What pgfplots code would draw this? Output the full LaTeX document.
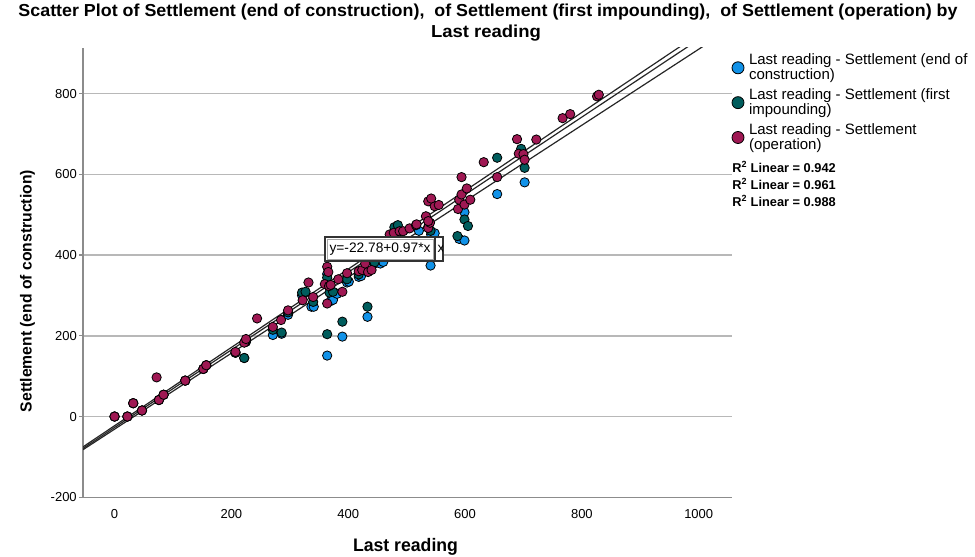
\documentclass[border=0pt]{standalone}
\usepackage{fontspec}
\setmainfont{Liberation Sans}
\usepackage{graphicx}
\usepackage{pgfplots}
\pgfplotsset{compat=1.18}
\definecolor{cblue}{HTML}{1192E8}
\definecolor{cteal}{HTML}{005D5D}
\definecolor{cred}{HTML}{9F1853}
\pgfplotsset{leg/.style={legend image code/.code={\draw[##1, mark size=4.5pt] plot coordinates {(0pt,0pt)};}}}
\begin{document}
\begin{tikzpicture}
\begin{scope}[x=0.75pt,y=-0.75pt]
\useasboundingbox (0,0) rectangle (975,557);
\end{scope}
\begin{axis}[
  at={(62.25pt,-372.975pt)}, anchor=south west,
  scale only axis, width=486.75pt, height=337.35pt,
  xmin=-54, xmax=1057, ymin=-200, ymax=914,
  axis x line*=bottom, axis y line*=left,
  axis line style={draw=black!45, line width=1.2pt, -},
  xtick={0,200,...,1000}, ytick={-200,0,200,400,600,800},
  ymajorgrids, grid style={draw=black!28, line width=1.1pt},
  tick align=outside, major tick length=3pt,
  xtick style={draw=none},
  ytick style={draw=black!45, line width=1pt},
  tick label style={font=\fontsize{9.75}{11}\selectfont},
  yticklabel style={anchor=east, inner sep=0pt, xshift=-1.5pt},
  xticklabel style={anchor=north, inner sep=0pt, yshift=-6pt},
  /pgf/number format/assume math mode=true,
  /pgf/number format/1000 sep={},
  legend style={at={(1,0.9862)}, anchor=north west, draw=none, fill=none,
    inner sep=0pt, outer sep=0pt, row sep=5pt, column sep=3.75pt,
    nodes={inner sep=0pt, outer sep=0pt, font=\fontsize{11.25}{10.3}\selectfont, align=left}},
  legend cell align=left,
]
\addplot[only marks, mark=*, mark size=3.5pt, mark options={fill=cblue, draw=black, line width=0.6pt}, leg] coordinates {
(0,0) (22,0) (32,33) (47,15) (76,41) (84,54) (121,89) (152,118) (157,127) (207,158) (222,145) (225,185) (271,202) (286,205) (297,252) (321,300) (337,272) (341,272) (364,151) (364,353) (370,286) (374,289) (381,304) (390,198) (398,332) (401,334) (418,346) (422,348) (433,247) (445,379) (455,379) (460,383) (479,455) (521,460) (542,451) (548,454) (541,374) (590,440) (599,436) (599,506) (655,551) (702,580)
};
\addlegendentry{Last reading - Settlement (end of\\construction)}
\addplot[only marks, mark=*, mark size=3.5pt, mark options={fill=cteal, draw=black, line width=0.6pt}, leg] coordinates {
(0,0) (22,0) (32,33) (47,15) (76,41) (84,54) (121,89) (152,118) (157,127) (207,158) (222,145) (225,188) (271,215) (286,208) (297,258) (321,307) (327,309) (340,284) (364,204) (364,344) (368,307) (374,309) (390,235) (398,340) (418,352) (433,272) (445,382) (479,469) (485,474) (537,470) (541,460) (587,447) (599,488) (605,472) (655,641) (696,663) (702,616)
};
\addlegendentry{Last reading - Settlement (first\\impounding)}
\addplot[only marks, mark=*, mark size=3.5pt, mark options={fill=cred, draw=black, line width=0.6pt}, leg] coordinates {
(0,0) (22,0) (32,33) (47,15) (72,97) (76,41) (84,54) (121,89) (152,118) (157,127) (207,160) (222,183) (225,192) (244,243) (271,222) (285,239) (297,263) (322,288) (332,332) (340,296) (360,328) (364,371) (366,358) (364,280) (367,323) (370,326) (383,340) (390,309) (398,355) (418,360) (424,363) (434,358) (429,379) (440,363) (471,451) (478,455) (488,459) (494,459) (505,466) (516,474) (517,476) (537,467) (540,480) (533,496) (537,484) (537,533) (548,521) (542,540) (555,524) (588,514) (590,537) (594,550) (594,593) (599,525) (603,565) (609,537) (632,630) (655,593) (689,687) (692,651) (700,650) (702,636) (722,686) (767,739) (780,749) (826,793) (829,797)
};
\addlegendentry{Last reading - Settlement\\(operation)}
\addplot[black!85, line width=0.9pt, forget plot] coordinates {(-54,-82.11) (1057,963.4)};
\addplot[black!85, line width=0.9pt, forget plot] coordinates {(-54,-79.0) (1057,988.7)};
\addplot[black!85, line width=0.9pt, forget plot] coordinates {(-54,-75.16) (1057,1002.5)};
\end{axis}
\begin{scope}[x=0.75pt,y=-0.75pt]
% equation label
\draw[black!80, line width=0.8pt, fill=white] (325,237) rectangle (435,261);
\draw[black!35, line width=0.5pt] (327,239) rectangle (433,259);
\draw[black!80, line width=0.8pt, fill=white] (435,237) rectangle (443,261);
\begin{scope}
\clip (435.5,237.5) rectangle (442.5,260.5);
\node[inner sep=0pt, font=\fontsize{10.3}{12}\selectfont] at (441,249) {x};
\end{scope}
\node[inner sep=0pt] at (380,249) {\resizebox{75.75pt}{\height}{\fontsize{10.3}{12}\selectfont y=-22.78+0.97*x}};
% titles
\node[inner sep=0pt] at (488,12.5) {\resizebox{704.25pt}{\height}{\fontsize{13}{15}\selectfont\bfseries Scatter Plot of Settlement (end of construction),~ of Settlement (first impounding),~ of Settlement (operation) by}};
\node[inner sep=0pt] at (486,33.5) {\resizebox{82.5pt}{\height}{\fontsize{13}{15}\selectfont\bfseries Last reading}};
\node[inner sep=0pt] at (405.5,547) {\resizebox{78.75pt}{\height}{\fontsize{13.6}{15}\selectfont\bfseries Last reading}};
\node[inner sep=0pt, rotate=90] at (27.5,291) {\resizebox{181.5pt}{\height}{\fontsize{12}{14}\selectfont\bfseries Settlement (end of construction)}};
% R2
\node[anchor=west, inner sep=0pt, font=\fontsize{9.6}{11}\selectfont\bfseries] at (732,167) {R\textsuperscript{2} Linear = 0.942};
\node[anchor=west, inner sep=0pt, font=\fontsize{9.6}{11}\selectfont\bfseries] at (732,184) {R\textsuperscript{2} Linear = 0.961};
\node[anchor=west, inner sep=0pt, font=\fontsize{9.6}{11}\selectfont\bfseries] at (732,201) {R\textsuperscript{2} Linear = 0.988};
\end{scope}
\end{tikzpicture}
\end{document}
